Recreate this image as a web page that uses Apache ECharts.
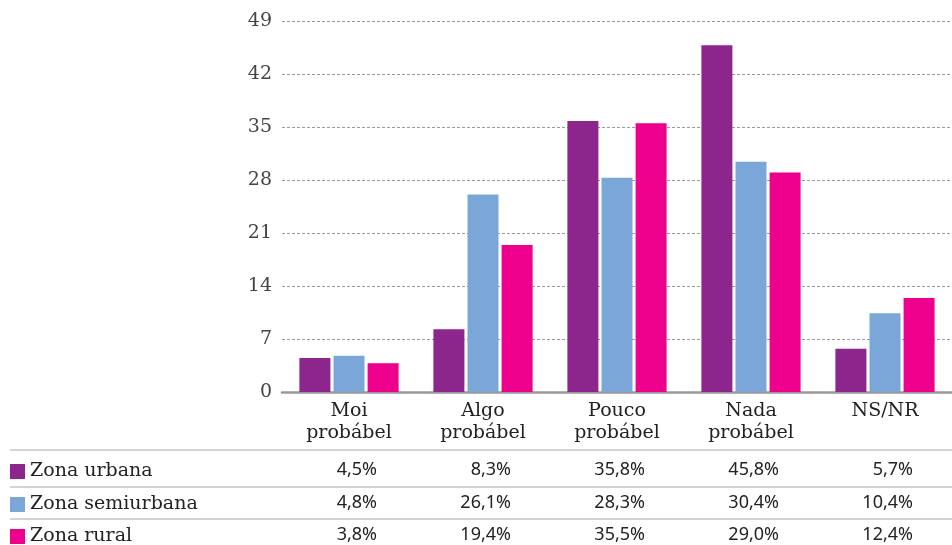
<!DOCTYPE html>
<html>
<head>
<meta charset="utf-8">
<script src="https://cdn.jsdelivr.net/npm/echarts@6/dist/echarts.min.js"></script>
<style>
  html, body { margin: 0; padding: 0; background: #fff; }
  #chart { width: 952px; height: 545px; }
</style>
</head>
<body>
<div id="chart"></div>
<script>
// Categories and series values (percent)
const categories = ['Moi\nprobábel', 'Algo\nprobábel', 'Pouco\nprobábel', 'Nada\nprobábel', 'NS/NR'];
const seriesNames = ['Zona urbana', 'Zona semiurbana', 'Zona rural'];
const urbana = [4.5, 8.3, 35.8, 45.8, 5.7];
const semiurbana = [4.8, 26.1, 28.3, 30.4, 10.4];
const rural = [3.8, 19.4, 35.5, 29.0, 12.4];
const yTicks = [0, 7, 14, 21, 28, 35, 42, 49];

const colors = ['#8c258c', '#7ba7d8', '#ec008c'];
const serif = '"DejaVu Serif", "Liberation Serif", serif';
const sans = '"Noto Sans", "Open Sans", sans-serif';

const chart = echarts.init(document.getElementById('chart'));
const allValues = [urbana, semiurbana, rural];

// Table rows: vertical centres of each row and the rules between them
const rowY = [470, 503, 535];
const ruleY = [450, 487, 519];

chart.setOption({
  animation: false,
  color: colors,
  grid: { left: 282, right: 0, top: 21, bottom: 153 },
  // one legend entry per table row, acting as the row header
  legend: seriesNames.map((name, i) => ({
    orient: 'horizontal',
    left: 10,
    top: rowY[i] - 8,
    padding: 0,
    itemWidth: 15,
    itemHeight: 15,
    icon: 'rect',
    selectedMode: false,
    textStyle: { fontFamily: serif, fontSize: 19, lineHeight: 16, color: '#222' },
    data: [name]
  })),
  xAxis: {
    type: 'category',
    data: categories,
    axisLine: { lineStyle: { color: '#999', width: 2.5 } },
    axisTick: { show: false },
    axisLabel: {
      fontFamily: serif, fontSize: 19, color: '#222', lineHeight: 22, margin: 8
    }
  },
  yAxis: {
    type: 'value',
    min: yTicks[0],
    max: yTicks[yTicks.length - 1],
    interval: 7,
    axisLine: { show: false },
    axisTick: { show: false },
    axisLabel: { fontFamily: serif, fontSize: 19, color: '#444', margin: 10 },
    splitLine: { lineStyle: { color: '#999', type: [3, 2], width: 1 } }
  },
  series: seriesNames.map((name, i) => ({
    name,
    type: 'bar',
    data: allValues[i],
    barWidth: 31,
    barGap: '10%'
  }))
});

// Data table below the plot: rule lines and right-aligned value cells
const fmt = v => v.toFixed(1).replace('.', ',') + '%';
const elements = [];
ruleY.forEach(y => {
  elements.push({
    type: 'line',
    shape: { x1: 10, y1: y, x2: 952, y2: y },
    style: { stroke: '#aaa', lineWidth: 1.2 }
  });
});
allValues.forEach((vals, r) => {
  vals.forEach((v, c) => {
    const cx = chart.convertToPixel({ xAxisIndex: 0 }, c);
    elements.push({
      type: 'text',
      x: cx + 28,
      y: rowY[r],
      style: {
        text: fmt(v),
        fontFamily: sans,
        fontSize: 18,
        fill: '#222',
        align: 'right',
        verticalAlign: 'middle'
      }
    });
  });
});
chart.setOption({ graphic: elements });
</script>
</body>
</html>
